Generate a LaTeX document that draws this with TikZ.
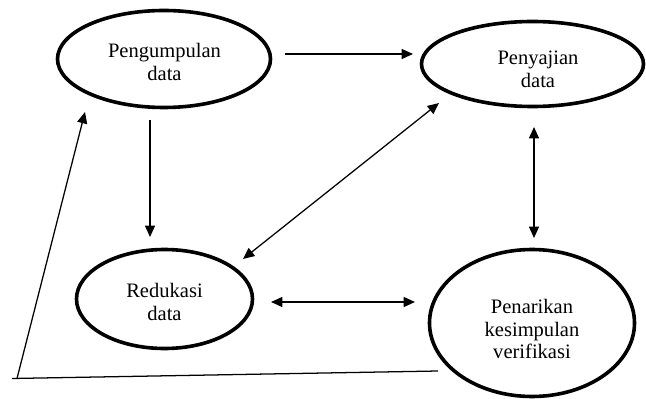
\documentclass[tikz,border=0pt]{standalone}
\usepackage{fontspec}
\setmainfont{Liberation Serif}
\usetikzlibrary{shapes.geometric,arrows.meta}
\begin{document}
\begin{tikzpicture}[x=0.75pt,y=-0.75pt,
  bubble/.style={draw,ellipse,line width=2.7pt,inner sep=0pt},
  lbl/.style={align=center,font=\fontsize{15.4}{17.2}\selectfont,inner sep=0pt},
  arr/.style={line width=0.95pt,-{Triangle[length=8.5pt,width=7.5pt]}},
  darr/.style={line width=0.95pt,{Triangle[length=8.5pt,width=7.5pt]}-{Triangle[length=8.5pt,width=7.5pt]}},
  plain/.style={line width=0.95pt}]
\useasboundingbox (0,0) rectangle (646,399);
% ellipses
\node[bubble,minimum width=159.75pt,minimum height=72.75pt] (pengumpulan) at (164,59) {};
\node[bubble,minimum width=166.5pt,minimum height=63.75pt] (penyajian) at (532.5,64) {};
\node[bubble,minimum width=132pt,minimum height=74.25pt] (redukasi) at (164.5,299) {};
\node[bubble,minimum width=153.75pt,minimum height=110.25pt] (penarikan) at (532,323) {};
% texts
\node[lbl] (tpengumpulan) at (164.5,62) {Pengumpulan\\data};
\node[lbl] (tpenyajian) at (538,69) {Penyajian\\data};
\node[lbl] (tredukasi) at (164.5,302) {Redukasi\\data};
\node[lbl] (tpenarikan) at (532,329) {Penarikan\\kesimpulan\\verifikasi};
% connector end points
\coordinate (a1s) at (285,54);  \coordinate (a1e) at (413,54);
\coordinate (a2s) at (150,120); \coordinate (a2e) at (150,237);
\coordinate (a3s) at (439,103); \coordinate (a3e) at (243,259);
\coordinate (a4s) at (534,127); \coordinate (a4e) at (534,238);
\coordinate (a5s) at (271,302); \coordinate (a5e) at (415,302);
\coordinate (fbs) at (438,371); \coordinate (fbe) at (12,378.5);
\coordinate (fbc) at (17,378.5); \coordinate (fbt) at (85,112);
% connectors
\draw[arr] (a1s) -- (a1e);
\draw[arr] (a2s) -- (a2e);
\draw[darr] (a3s) -- (a3e);
\draw[darr] (a4s) -- (a4e);
\draw[darr] (a5s) -- (a5e);
\draw[plain] (fbs) -- (fbe);
\draw[arr] (fbc) -- (fbt);
\end{tikzpicture}
\end{document}
